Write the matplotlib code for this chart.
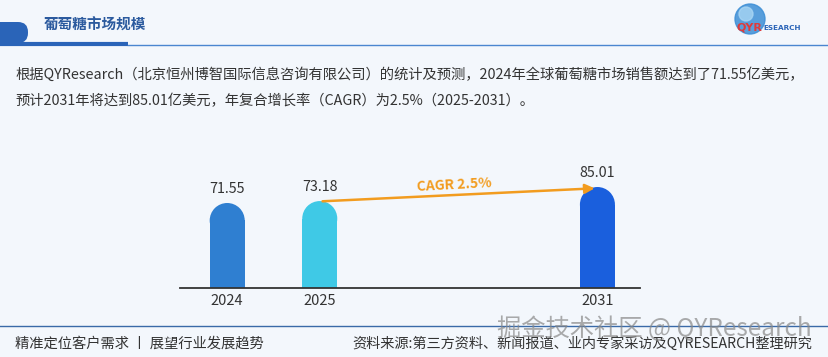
import matplotlib.pyplot as plt
import matplotlib.patches as patches

plt.rcParams['font.family'] = ['Noto Sans CJK SC', 'DejaVu Sans']

years = ['2024', '2025', '2031']
slots = [0, 1, 4]
values = [71.55, 73.18, 85.01]
bar_colors = ['#2f7fd1', '#3fc9e6', '#1a5fdd']
cagr_label = 'CAGR 2.5%'

title = '葡萄糖市场规模'
para = ['根据QYResearch（北京恒州博智国际信息咨询有限公司）的统计及预测，2024年全球葡萄糖市场销售额达到了71.55亿美元，',
        '预计2031年将达到85.01亿美元，年复合增长率（CAGR）为2.5%（2025-2031）。']
footer_left = '精准定位客户需求 丨 展望行业发展趋势'
footer_right = '资料来源:第三方资料、新闻报道、业内专家采访及QYRESEARCH整理研究'
watermark = '掘金技术社区 @ QYResearch'

W, H = 829, 357
fig = plt.figure(figsize=(W / 100, H / 100), dpi=100)
fig.patch.set_facecolor('#f3f7fc')

# overlay in pixel coords
bg = fig.add_axes([0, 0, 1, 1])
bg.set_xlim(0, W)
bg.set_ylim(H, 0)
bg.axis('off')

# header
bg.add_patch(patches.FancyBboxPatch((-20, 22), 48, 21, boxstyle='round,pad=0,rounding_size=10',
                                    color='#2a64b8', lw=0))
bg.plot([0, 128], [44, 44], color='#2a64b8', lw=3, solid_capstyle='butt')
bg.plot([128, W], [44.5, 44.5], color='#4a86d0', lw=1)
bg.text(44, 25, title, fontsize=10.5, fontweight='bold', color='#2b5a9e', va='center', ha='left')

# logo
bg.add_patch(patches.Circle((750, 19), 15, color='#3d8fd6', alpha=0.85))
bg.add_patch(patches.Circle((746, 14), 7, color='#a8d6f4', alpha=0.8))
bg.text(737, 27, 'QYR', fontsize=8, fontweight='bold', color='#e03a3a', va='center', ha='left',
        family='DejaVu Sans')
bg.text(763, 27.5, 'ESEARCH', fontsize=5.2, fontweight='bold', color='#2a64b8', va='center', ha='left',
        family='DejaVu Sans')

# paragraph
bg.text(15, 75, para[0], fontsize=10.3, color='#333333', va='center', ha='left')
bg.text(15, 101, para[1], fontsize=10.3, color='#333333', va='center', ha='left')

# footer
bg.plot([0, W], [326, 326], color='#3a6aa8', lw=1)
bg.text(15, 344, footer_left, fontsize=10.3, color='#333333', va='center', ha='left')
bg.text(812, 344, footer_right, fontsize=10.2, color='#333333', va='center', ha='right')
bg.text(812, 329, watermark, fontsize=17.5, color='#888888', alpha=0.7, va='center', ha='right')

# chart axes
x0, x1, base, top = 180, 640, 288, 150
ppu = 1.188
ax = fig.add_axes([x0 / W, (H - base) / H, (x1 - x0) / W, (base - top) / H])
ax.patch.set_alpha(0)
ax.set_xlim(-0.51, 4.46)
ax.set_ylim(0, (base - top) / ppu)
for s in ['top', 'right', 'left']:
    ax.spines[s].set_visible(False)
ax.spines['bottom'].set_color('#333333')
ax.spines['bottom'].set_linewidth(1.3)
ax.set_yticks([])
ax.set_xticks(slots)
ax.set_xticklabels(years, fontsize=10.5, color='#333333')
ax.tick_params(axis='x', length=0, pad=4)

bw = 35 / 92.5
r = 17.5 / ppu
for xs, v, c in zip(slots, values, bar_colors):
    ax.bar(xs, v - r, width=bw, color=c, zorder=2)
    ax.add_patch(patches.Ellipse((xs, v - r), bw, 2 * r, color=c, lw=0, zorder=2))
    ax.annotate(f'{v:.2f}', (xs, v), xytext=(0, 5), textcoords='offset points',
                ha='center', va='bottom', fontsize=10.3, color='#333333')

ax.annotate('', xy=(slots[2], values[2] - 1), xytext=(slots[1], values[1] - 0.3),
            arrowprops=dict(arrowstyle='-|>', color='#f29c1f', lw=1.8, mutation_scale=14),
            zorder=3)
ax.text((slots[1] + slots[2]) / 2 - 0.05, (values[1] + values[2]) / 2 + 7.5, cagr_label,
        fontsize=10, fontweight='bold', color='#f29c1f', ha='center', va='center', rotation=3)

fig.savefig('out.png', dpi=100, facecolor=fig.get_facecolor())
